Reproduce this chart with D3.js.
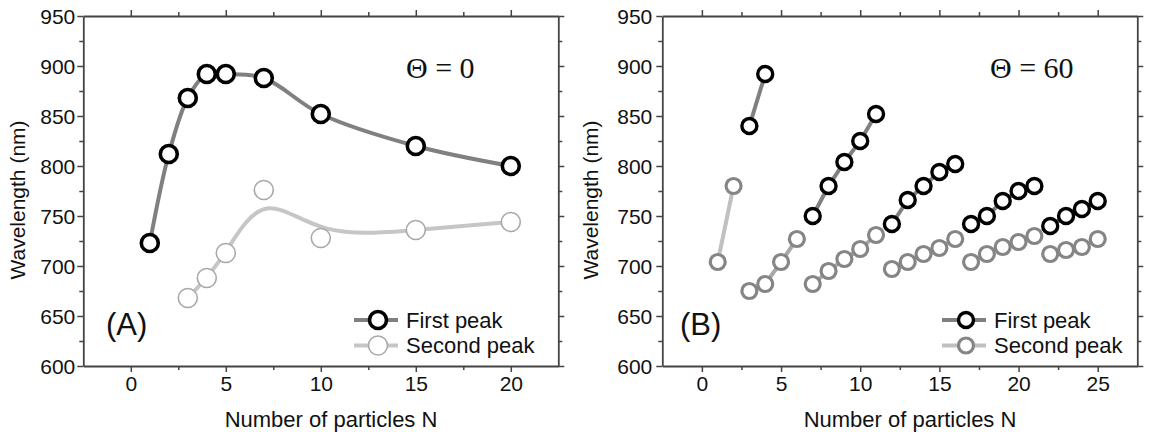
<!DOCTYPE html>
<html><head><meta charset="utf-8">
<script src="https://cdn.jsdelivr.net/npm/d3@7"></script>
<style>
html,body{margin:0;padding:0;background:#fff;}
svg{display:block;}
text{font-family:"Liberation Sans",Arial,sans-serif;fill:#111;}
</style></head>
<body>
<svg id="chart" width="1152" height="432"></svg>
<script>
// ---- Panel A data (Theta = 0) ----
const nA1 = [1, 2, 3, 4, 5, 7, 10, 15, 20];
const firstPeakA = [723, 812, 868, 892, 892, 888, 852, 820, 800];
const nA2 = [3, 4, 5, 7, 10, 15, 20];
const secondPeakA = [668, 688, 713, 776, 728, 736, 744];

// ---- Panel B data (Theta = 60) ----
const nB = [1,2,3,4,5,6,7,8,9,10,11,12,13,14,15,16,17,18,19,20,21,22,23,24,25];
const firstPeakB = [null,null,840,892,null,null,750,780,804,825,852,742,766,780,794,802,742,750,765,775,780,740,750,757,765];
const secondPeakB = [704,780,675,682,704,727,682,695,707,717,731,697,704,712,718,727,704,712,719,724,730,712,716,719,727];
const firstSegmentsB = [[3,4],[7,11],[12,16],[17,21],[22,25]];
const secondSegmentsB = [[1,2],[3,6],[7,11],[12,16],[17,21],[22,25]];

// ---- Axes ----
const yTicks = [600, 650, 700, 750, 800, 850, 900, 950];
const yMinor = [625, 675, 725, 775, 825, 875, 925];
const xTicksA = [0, 5, 10, 15, 20];
const xMinorA = [2.5, 7.5, 12.5, 17.5];
const xTicksB = [0, 5, 10, 15, 20, 25];
const xMinorB = [2.5, 7.5, 12.5, 17.5, 22.5];
const legendLabels = ["First peak", "Second peak"];

const svg = d3.select("#chart");
const TOP = 16, BOTTOM = 366;

function panel(opts) {
  const g = svg.append("g");
  const x = d3.scaleLinear().domain(opts.xDomain).range(opts.xRange);
  const y = d3.scaleLinear().domain([600, 950]).range([BOTTOM, TOP]);
  const axisColor = "#444";

  function styleAxis(sel) {
    sel.select(".domain").attr("stroke", axisColor).attr("stroke-width", 1.8);
    sel.selectAll(".tick line").attr("stroke", axisColor).attr("stroke-width", 1.5);
    sel.selectAll(".tick text").attr("font-size", 21).attr("fill", "#111")
      .attr("font-family", "Liberation Sans, Arial, sans-serif");
  }
  // minor ticks
  const addMinor = (axisGen, vals, transform) => {
    g.append("g").attr("transform", transform)
      .call(axisGen.tickValues(vals).tickSize(4).tickFormat(""))
      .call(s => { s.select(".domain").remove(); s.selectAll(".tick line").attr("stroke", axisColor).attr("stroke-width", 1.5); });
  };
  addMinor(d3.axisBottom(x), opts.xMinor, `translate(0,${BOTTOM})`);
  addMinor(d3.axisTop(x), opts.xMinor, `translate(0,${TOP})`);
  addMinor(d3.axisLeft(y), yMinor, `translate(${opts.xRange[0]},0)`);
  addMinor(d3.axisRight(y), yMinor, `translate(${opts.xRange[1]},0)`);

  g.append("g").attr("transform", `translate(0,${BOTTOM})`)
    .call(d3.axisBottom(x).tickValues(opts.xTicks).tickSize(6).tickSizeOuter(0).tickPadding(4).tickFormat(d3.format("d")))
    .call(styleAxis);
  g.append("g").attr("transform", `translate(0,${TOP})`)
    .call(d3.axisTop(x).tickValues(opts.xTicks).tickSize(6).tickSizeOuter(0).tickFormat(""))
    .call(styleAxis);
  g.append("g").attr("transform", `translate(${opts.xRange[0]},0)`)
    .call(d3.axisLeft(y).tickValues(yTicks).tickSize(6).tickSizeOuter(0).tickPadding(opts.yPad).tickFormat(d3.format("d")))
    .call(styleAxis)
    .call(s => s.selectAll(".tick text").attr("dy", "0.36em"));
  g.append("g").attr("transform", `translate(${opts.xRange[1]},0)`)
    .call(d3.axisRight(y).tickValues(yTicks).tickSize(6).tickSizeOuter(0).tickFormat(""))
    .call(styleAxis);

  // axis titles
  g.append("text").attr("x", opts.xTitleX).attr("y", 427).attr("text-anchor", "middle")
    .attr("font-size", 22).text("Number of particles N");
  g.append("text").attr("transform", `translate(${opts.yTitleX},${opts.yTitleY}) rotate(-90)`)
    .attr("text-anchor", "middle").attr("font-size", 21).text("Wavelength (nm)");

  // panel label
  g.append("text").attr("x", opts.labelX).attr("y", 335).attr("font-size", 31).text(opts.label);
  // theta annotation
  g.append("text").attr("x", opts.thetaX).attr("y", 78).attr("font-size", 30)
    .style("font-family", "'Liberation Serif', 'Times New Roman', serif").text(opts.theta);

  return {g, x, y};
}

// ---------- Panel A ----------
const A = panel({xDomain: [-2.5, 22.5], xRange: [83.3, 558.3], xTicks: xTicksA, xMinor: xMinorA,
  yPad: 2, xTitleX: 331, yTitleX: 25, yTitleY: 200, label: "(A)", labelX: 106, theta: "\u0398 = 0", thetaX: 406});

const lineA2 = d3.line().x((d, i) => A.x(nA2[i])).y(d => A.y(d)).curve(d3.curveBasis);
A.g.append("path").attr("d", lineA2(secondPeakA)).attr("fill", "none").attr("stroke", "#c6c6c6").attr("stroke-width", 4);
A.g.selectAll(".c2").data(secondPeakA).join("circle")
  .attr("cx", (d, i) => A.x(nA2[i])).attr("cy", d => A.y(d)).attr("r", 9.5)
  .attr("fill", "#fff").attr("stroke", "#a9a9a9").attr("stroke-width", 1.6);

const lineA1 = d3.line().x((d, i) => A.x(nA1[i])).y(d => A.y(d)).curve(d3.curveCatmullRom.alpha(0.5));
A.g.append("path").attr("d", lineA1(firstPeakA)).attr("fill", "none").attr("stroke", "#808080").attr("stroke-width", 4);
A.g.selectAll(".c1").data(firstPeakA).join("circle")
  .attr("cx", (d, i) => A.x(nA1[i])).attr("cy", d => A.y(d)).attr("r", 8.5)
  .attr("fill", "#fff").attr("stroke", "#000").attr("stroke-width", 3.6);

// legend A
function legend(P, lx, styles) {
  styles.forEach((s, i) => {
    const ly = 320 + i * 25.5;
    P.g.append("line").attr("x1", lx - 24).attr("x2", lx + 20).attr("y1", ly).attr("y2", ly)
      .attr("stroke", s.line).attr("stroke-width", 4);
    P.g.append("circle").attr("cx", lx).attr("cy", ly).attr("r", s.r)
      .attr("fill", "#fff").attr("stroke", s.stroke).attr("stroke-width", s.sw);
    P.g.append("text").attr("x", lx + 28).attr("y", ly + 7.5).attr("font-size", 22).text(legendLabels[i]);
  });
}
legend(A, 378, [{line: "#808080", stroke: "#000", sw: 3.6, r: 8.5}, {line: "#c6c6c6", stroke: "#a9a9a9", sw: 1.6, r: 9.5}]);

// ---------- Panel B ----------
const B = panel({xDomain: [-2.5, 27.5], xRange: [662.3, 1137.3], xTicks: xTicksB, xMinor: xMinorB,
  yPad: 4, xTitleX: 910, yTitleX: 598, yTitleY: 200, label: "(B)", labelX: 680, theta: "\u0398 = 60", thetaX: 990});

const lineB = d3.line().x(d => B.x(d.n)).y(d => B.y(d.v));
function segPoints(vals, seg) {
  return nB.map((n, i) => ({n, v: vals[i]})).filter(d => d.n >= seg[0] && d.n <= seg[1] && d.v != null);
}
secondSegmentsB.forEach((seg, k) => {
  B.g.append("path").attr("d", lineB(segPoints(secondPeakB, seg))).attr("fill", "none")
    .attr("stroke", k === 0 ? "#c0c0c0" : "#a8a8a8").attr("stroke-width", 4);
});
B.g.selectAll(".b2").data(nB.map((n, i) => ({n, v: secondPeakB[i]}))).join("circle")
  .attr("cx", d => B.x(d.n)).attr("cy", d => B.y(d.v)).attr("r", 7.5)
  .attr("fill", "#fff").attr("stroke", "#858585").attr("stroke-width", 3.2);
firstSegmentsB.forEach(seg => {
  B.g.append("path").attr("d", lineB(segPoints(firstPeakB, seg))).attr("fill", "none")
    .attr("stroke", "#808080").attr("stroke-width", 4);
});
B.g.selectAll(".b1").data(nB.map((n, i) => ({n, v: firstPeakB[i]})).filter(d => d.v != null)).join("circle")
  .attr("cx", d => B.x(d.n)).attr("cy", d => B.y(d.v)).attr("r", 7.5)
  .attr("fill", "#fff").attr("stroke", "#000").attr("stroke-width", 3.4);

legend(B, 966, [{line: "#808080", stroke: "#000", sw: 3.4, r: 7.5}, {line: "#c0c0c0", stroke: "#858585", sw: 3.2, r: 7.5}]);
</script>
</body></html>
